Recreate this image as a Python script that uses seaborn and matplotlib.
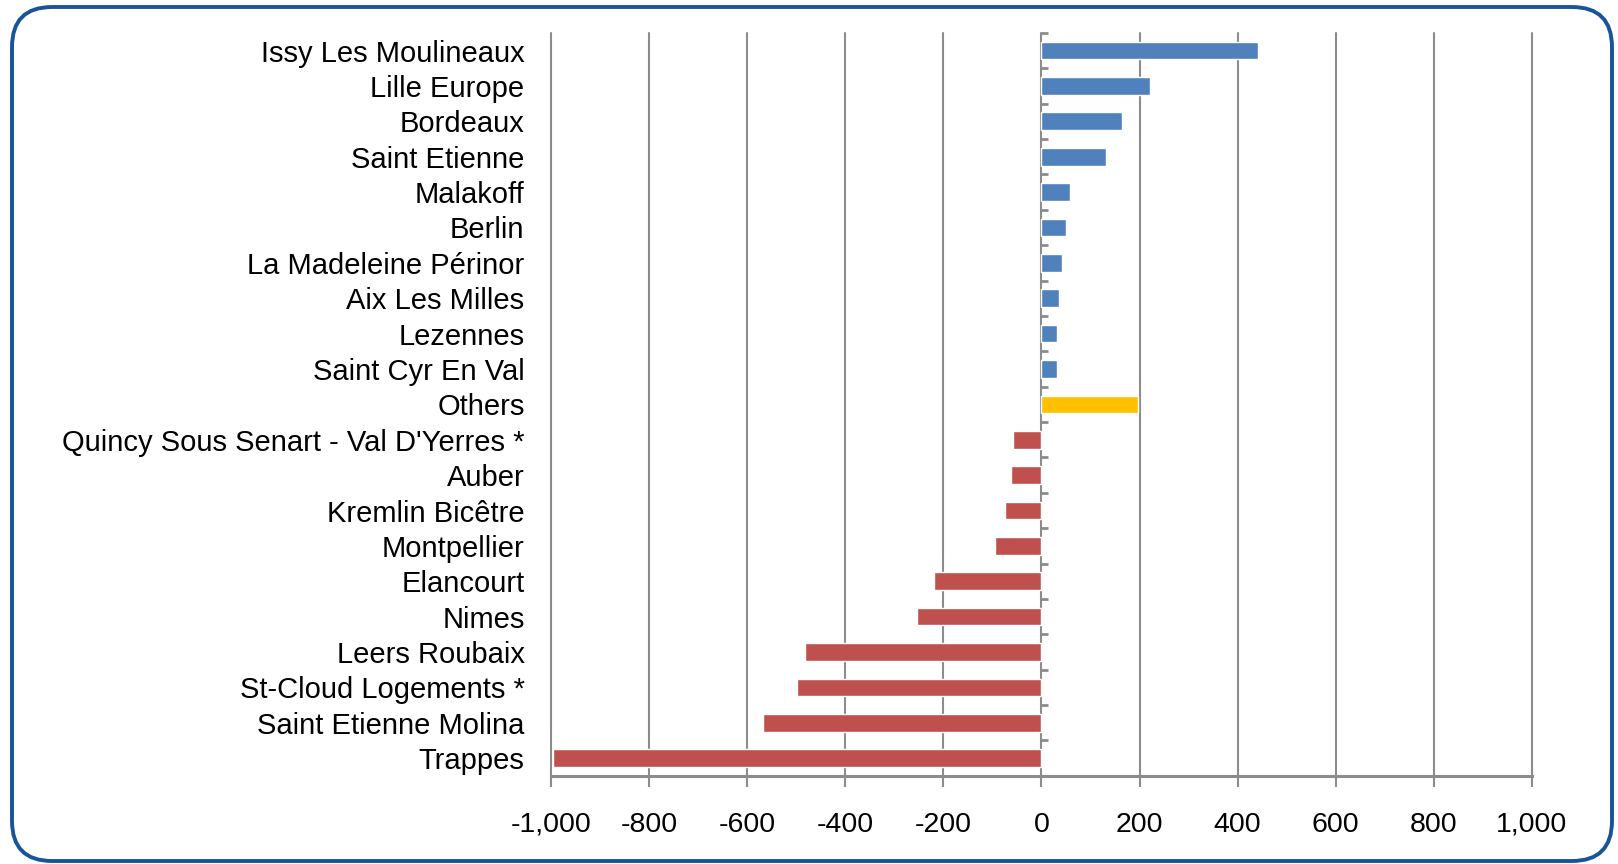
import matplotlib
matplotlib.use("Agg")
import matplotlib.pyplot as plt
import seaborn as sns
import pandas as pd
import numpy as np
from matplotlib.patches import FancyBboxPatch
from matplotlib.transforms import IdentityTransform
from matplotlib.ticker import FuncFormatter

categories = ["Issy Les Moulineaux", "Lille Europe", "Bordeaux", "Saint Etienne", "Malakoff",
              "Berlin", "La Madeleine Périnor", "Aix Les Milles", "Lezennes", "Saint Cyr En Val",
              "Others", "Quincy Sous Senart - Val D'Yerres *", "Auber", "Kremlin Bicêtre",
              "Montpellier", "Elancourt", "Nimes", "Leers Roubaix", "St-Cloud Logements *",
              "Saint Etienne Molina", "Trappes"]
values = [441, 222, 165, 132, 59, 50, 42, 35, 31, 31, 197, -58, -62, -74, -94, -220, -253,
          -481, -498, -568, -995]
groups = ["up"] * 10 + ["others"] + ["down"] * 10
group_colors = {"up": "#4F81BD", "others": "#FFC000", "down": "#C0504D"}
xticks = [-1000, -800, -600, -400, -200, 0, 200, 400, 600, 800, 1000]

sns.set_theme(style="white")
plt.rcParams["font.family"] = ["Liberation Sans", "DejaVu Sans"]

df = pd.DataFrame({"site": categories, "value": values, "group": groups})

fig = plt.figure(figsize=(16.18, 8.64), dpi=100)
ax = fig.add_axes([0.3405, 0.102, 0.6063, 0.860])

grid_c = "#8C8C8C"
sns.barplot(data=df, x="value", y="site", hue="group", palette=group_colors,
            orient="h", width=0.5, legend=False, ax=ax, zorder=3, saturation=1)

ax.set_xlim(-1000, 1000)
ax.set_ylim(len(categories) - 0.5, -0.5)
ax.set_xticks(xticks)
ax.xaxis.set_major_formatter(FuncFormatter(lambda v, p: f"{v:,.0f}"))
ax.set_xlabel("")
ax.set_ylabel("")
ax.grid(axis="x", color=grid_c, linewidth=1.5, zorder=0)
ax.grid(axis="y", visible=False)
for ln in ax.get_xgridlines():
    ln.set_clip_on(False)
ax.set_axisbelow(True)

for s in ["top", "right", "left"]:
    ax.spines[s].set_visible(False)
ax.spines["bottom"].set_color(grid_c)
ax.spines["bottom"].set_linewidth(2.2)

ax.tick_params(axis="x", direction="out", length=8, width=1.5, color=grid_c,
               labelsize=20.5, pad=18, bottom=True, labelcolor="black")
ax.tick_params(axis="y", length=0, labelsize=21, pad=19, labelcolor="black")

# vertical category axis at zero
sec = ax.secondary_yaxis(0.5)
sec.set_yticks(np.arange(-0.5, len(categories), 1.0))
sec.set_yticklabels([])
sec.tick_params(axis="y", direction="out", length=5, width=2, color=grid_c)
sec.spines["left"].set_color(grid_c)
sec.spines["left"].set_linewidth(2.5)
for s in ["top", "right", "bottom"]:
    sec.spines[s].set_visible(False)

# rounded frame
frame = FancyBboxPatch((12, 3), 1600, 854, boxstyle="round,pad=0,rounding_size=40",
                       transform=IdentityTransform(), fill=False,
                       edgecolor="#18549A", linewidth=2.8, figure=fig)
fig.patches.append(frame)

fig.savefig("out.png", dpi=100, facecolor="white")
